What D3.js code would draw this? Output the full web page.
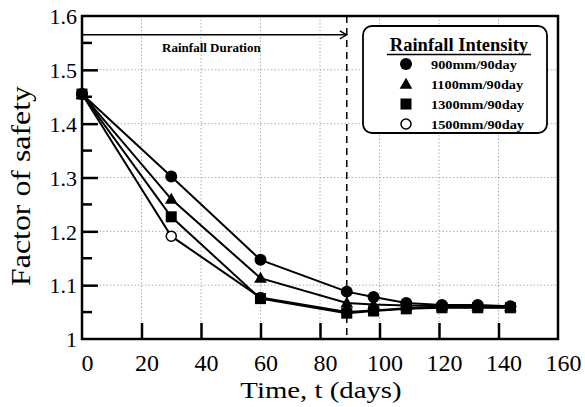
<!DOCTYPE html>
<html>
<head>
<meta charset="utf-8">
<script src="https://cdn.jsdelivr.net/npm/d3@7"></script>
<style>
  body { margin: 0; background: #fff; }
  svg text { font-family: "Liberation Serif", "DejaVu Serif", serif; }
</style>
</head>
<body>
<div id="chart-area"></div>
<script>
// data
var days = [0, 30, 60, 89, 98, 109, 121, 133, 144];
var fs900 = [1.455, 1.302, 1.147, 1.088, 1.078, 1.067, 1.063, 1.063, 1.061];
var fs1100 = [1.455, 1.260, 1.113, 1.067, 1.064, 1.062, 1.061, 1.061, 1.060];
var fs1300 = [1.455, 1.227, 1.075, 1.048, 1.052, 1.056, 1.058, 1.058, 1.058];
var fs1500 = [1.455, 1.191, 1.077, 1.050, 1.053, 1.057, 1.059, 1.059, 1.059];
var seriesNames = ["900mm/90day", "1100mm/90day", "1300mm/90day", "1500mm/90day"];
var seriesMarks = ["circle", "triangle", "square", "open"];
var xTicks = [0, 20, 40, 60, 80, 100, 120, 140, 160];
var yTicks = [1, 1.1, 1.2, 1.3, 1.4, 1.5, 1.6];
var yMinor = [1.05, 1.15, 1.25, 1.35, 1.45, 1.55];
var rainEnd = 89;
var durationLevel = 1.565;

var margin = {top: 16, right: 27, bottom: 68, left: 82};
var width = 585 - margin.left - margin.right;
var height = 407 - margin.top - margin.bottom;
var serif = "'Liberation Serif', 'DejaVu Serif', serif";

var svg = d3.select("#chart-area").append("svg")
  .attr("width", 585)
  .attr("height", 407);
var g = svg.append("g")
  .attr("transform", "translate(" + margin.left + "," + margin.top + ")");

// the scanned figure's lettering is a bit wider than the font
function stretch(sel, k) {
  sel.each(function() {
    var len = this.getComputedTextLength();
    d3.select(this).attr("textLength", len * k).attr("lengthAdjust", "spacingAndGlyphs");
  });
  return sel;
}

var x = d3.scaleLinear().domain([0, 160]).range([0, width]);
var y = d3.scaleLinear().domain([1, 1.6]).range([height, 0]);

// grid
g.selectAll(".vgrid").data(xTicks.slice(1, -1)).enter().append("line")
  .attr("x1", d => x(d)).attr("x2", d => x(d))
  .attr("y1", 0).attr("y2", height)
  .attr("stroke", "#999").attr("stroke-width", 0.8)
  .attr("stroke-dasharray", "1.5,2");
g.selectAll(".hgrid").data(yTicks.slice(1, -1)).enter().append("line")
  .attr("x1", 0).attr("x2", width)
  .attr("y1", d => y(d)).attr("y2", d => y(d))
  .attr("stroke", "#999").attr("stroke-width", 0.8)
  .attr("stroke-dasharray", "1.5,2");

// axes (ticks inside)
var bottomAxis = d3.axisBottom(x).tickValues(xTicks).tickSize(-16).tickPadding(15).tickFormat(d3.format("d"));
var leftAxis = d3.axisLeft(y).tickValues(yTicks).tickSize(-16).tickPadding(5)
  .tickFormat(d => d === 1 ? "1" : d3.format(".1f")(d));

var xa = g.append("g").attr("transform", "translate(0," + height + ")").call(bottomAxis);
var ya = g.append("g").call(leftAxis);
[xa, ya].forEach(a => {
  a.attr("font-family", serif);
  a.select(".domain").remove();
  a.selectAll(".tick line").attr("stroke", "#000").attr("stroke-width", 2.5);
  a.selectAll("text").attr("fill", "#000").attr("font-family", serif);
});
xa.selectAll("text").attr("font-size", "24px").attr("dx", 5);
ya.selectAll("text").attr("font-size", "22px").attr("dy", "0.35em");
xa.selectAll(".tick").filter(d => d === 0 || d === 160).select("line").remove();
ya.selectAll(".tick").filter(d => d === 1 || d === 1.6).select("line").remove();

g.selectAll(".yminor").data(yMinor).enter().append("line")
  .attr("x1", 0).attr("x2", 10)
  .attr("y1", d => y(d)).attr("y2", d => y(d))
  .attr("stroke", "#000").attr("stroke-width", 2.5);

// frame
g.append("rect").attr("width", width).attr("height", height)
  .attr("fill", "none").attr("stroke", "#000").attr("stroke-width", 2.5);

// rainfall duration
g.append("line")
  .attr("x1", x(rainEnd)).attr("x2", x(rainEnd))
  .attr("y1", 0).attr("y2", height)
  .attr("stroke", "#000").attr("stroke-width", 1.5)
  .attr("stroke-dasharray", "7,5");
g.append("line")
  .attr("x1", 0).attr("x2", x(rainEnd) - 1)
  .attr("y1", y(durationLevel)).attr("y2", y(durationLevel))
  .attr("stroke", "#000").attr("stroke-width", 1.5);
g.append("path")
  .attr("d", "M" + (x(rainEnd) - 7) + "," + (y(durationLevel) - 4) + " L" + x(rainEnd) + "," + y(durationLevel) + " L" + (x(rainEnd) - 7) + "," + (y(durationLevel) + 4))
  .attr("fill", "none").attr("stroke", "#000").attr("stroke-width", 1.3);
stretch(g.append("text")
  .attr("x", x(rainEnd) / 2 - 3).attr("y", y(durationLevel) + 17)
  .attr("text-anchor", "middle").attr("font-size", "11.5px").attr("font-weight", "bold")
  .text("Rainfall Duration"), 1.13);

// series
var allSeries = [fs900, fs1100, fs1300, fs1500];
var line = d3.line().x((d, i) => x(days[i])).y(d => y(d));
allSeries.slice().reverse().forEach(s => {
  g.append("path").datum(s).attr("d", line)
    .attr("fill", "none").attr("stroke", "#000").attr("stroke-width", 2);
});

function drawMark(sel, type, cx, cy) {
  if (type === "circle") {
    sel.append("circle").attr("cx", cx).attr("cy", cy).attr("r", 6).attr("fill", "#000");
  } else if (type === "open") {
    sel.append("circle").attr("cx", cx).attr("cy", cy).attr("r", 5).attr("fill", "#fff")
      .attr("stroke", "#000").attr("stroke-width", 1.5);
  } else if (type === "square") {
    sel.append("rect").attr("x", cx - 5.5).attr("y", cy - 5.5).attr("width", 11).attr("height", 11).attr("fill", "#000");
  } else {
    sel.append("path").attr("d", d3.symbol().type(d3.symbolTriangle).size(70)())
      .attr("transform", "translate(" + cx + "," + (cy + 1) + ")").attr("fill", "#000");
  }
}
[3, 2, 1, 0].forEach(k => {
  allSeries[k].forEach((v, i) => drawMark(g, seriesMarks[k], x(days[i]), y(v)));
});

// legend
var legend = svg.append("g").attr("transform", "translate(363,26)");
legend.append("rect").attr("width", 184).attr("height", 107).attr("rx", 9)
  .attr("fill", "#fff").attr("stroke", "#000").attr("stroke-width", 1.8);
legend.append("text").attr("x", 96).attr("y", 25)
  .attr("text-anchor", "middle").attr("font-size", "18.5px").attr("font-weight", "bold")
  .text("Rainfall Intensity");
legend.append("line").attr("x1", 24).attr("x2", 168).attr("y1", 28.5).attr("y2", 28.5)
  .attr("stroke", "#000").attr("stroke-width", 1.3);
seriesNames.forEach((n, i) => {
  var row = legend.append("g").attr("transform", "translate(0," + (38 + i * 20) + ")");
  drawMark(row, seriesMarks[i], 43, 0);
  stretch(row.append("text").attr("x", 68).attr("y", 4.5).attr("font-size", "13px").attr("font-weight", "bold")
    .text(n), 1.1);
});

// axis labels
stretch(svg.append("text").attr("x", 321).attr("y", 398)
  .attr("text-anchor", "middle").attr("font-size", "24px").text("Time, t (days)"), 1.2);
stretch(svg.append("text").attr("transform", "translate(30,186) rotate(-90)")
  .attr("text-anchor", "middle").attr("font-size", "27px").text("Factor of safety"), 1.18);
</script>
</body>
</html>
